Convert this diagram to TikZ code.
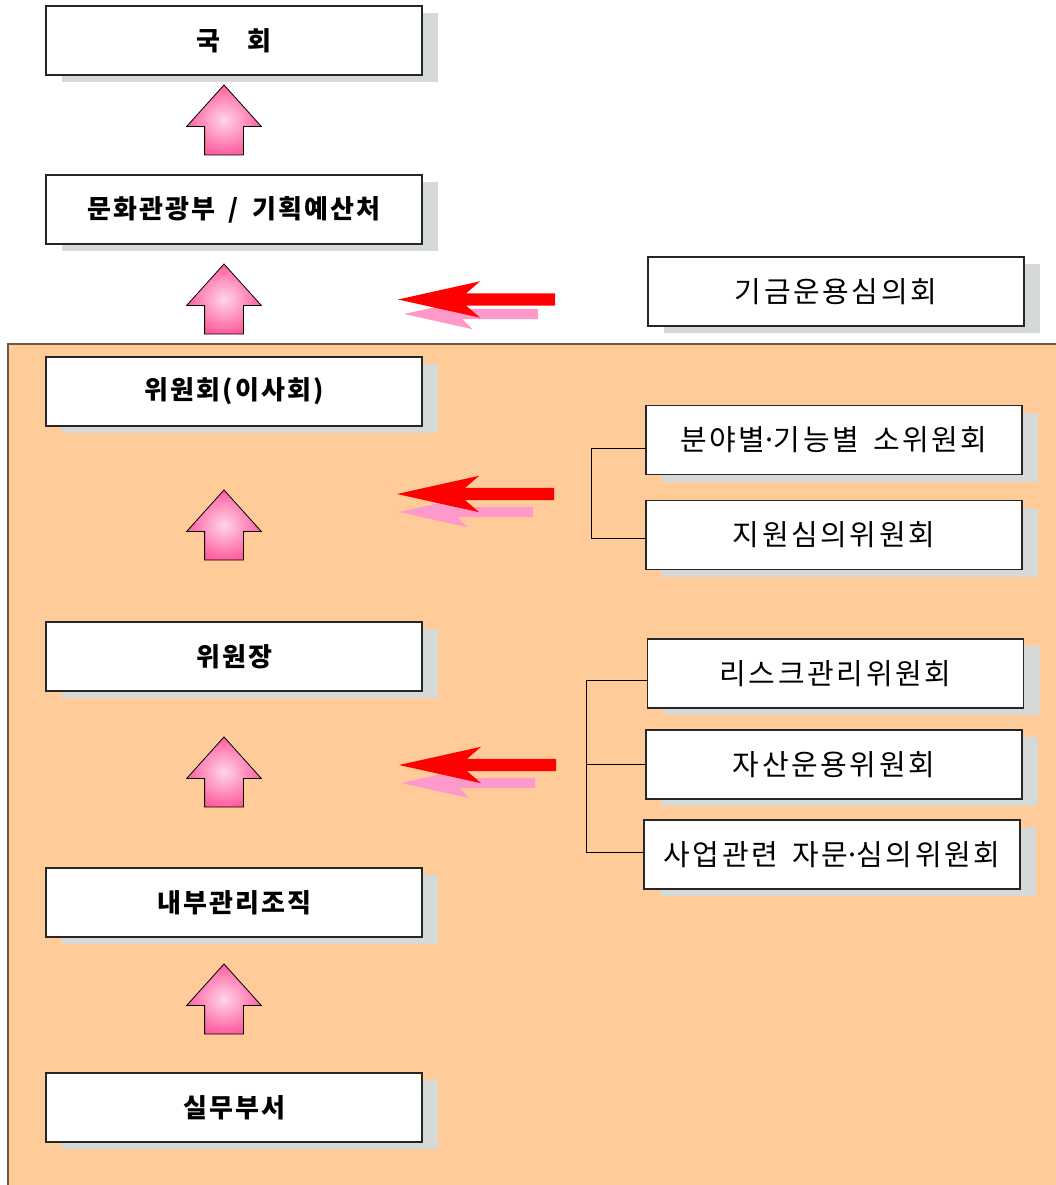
\documentclass[tikz,border=0pt]{standalone}
\usepackage{fontspec}
\newfontfamily\kr[LetterSpace=8]{Noto Sans CJK KR}
\newfontfamily\krwide[LetterSpace=9]{Noto Sans CJK KR}
\usetikzlibrary{calc,positioning,shapes,shadows}
\definecolor{peach}{HTML}{FFCC99}
\definecolor{bgline}{HTML}{6B5B4B}
\definecolor{shadowgray}{HTML}{D5DAD7}
\definecolor{pkin}{HTML}{FFD6EA}
\definecolor{pkout}{HTML}{FF5C9E}
\definecolor{pinkarr}{HTML}{FF99CC}
\newcommand{\mdot}{\kern-4pt·\kern-4pt}
\tikzset{
    box/.style={
        rectangle,
        draw=black!85,
        line width=1.2pt,
        fill=white,
        minimum width=376pt,
        minimum height=69pt,
        inner sep=0pt,
        outer sep=0pt,
        drop shadow={shadow xshift=16pt,shadow yshift=-7pt,fill=shadowgray,opacity=1},
    },
    leftbox/.style={
        box,
        font=\kr\bfseries\fontsize{26pt}{30pt}\selectfont,
    },
    rightbox/.style={
        box,
        font=\krwide\fontsize{29pt}{33pt}\selectfont,
    },
    uparrow/.style={
        single arrow,
        rotate=90,
        anchor=tip,
        draw=black,
        line width=0.8pt,
        inner color=pkin,
        outer color=pkout,
        minimum height=70pt,
        inner xsep=0pt,
        inner ysep=19pt,
        single arrow head extend=18pt,
        single arrow tip angle=84,
        outer sep=0pt,
    },
    redarrow/.style={
        single arrow,
        rotate=180,
        anchor=tip,
        fill=red,
        minimum height=157pt,
        inner xsep=0pt,
        inner ysep=6pt,
        single arrow head extend=12pt,
        single arrow head indent=14pt,
        single arrow tip angle=25,
        outer sep=0pt,
    },
    pinkarrow/.style={
        redarrow,
        fill=pinkarr,
        minimum height=134pt,
        inner ysep=5pt,
        single arrow head extend=10pt,
        single arrow head indent=10pt,
    },
    bracket/.style={
        draw=black,
        line width=1pt,
    },
    bgarea/.style={
        draw=bgline,
        fill=peach,
        line width=1.6pt,
    },
}
\begin{document}
\begin{tikzpicture}[x=1pt,y=-1pt]
    \useasboundingbox (0,0) rectangle (1055,1185);
    \path[bgarea] (8,344) rectangle (1068,1195);

    \node[leftbox] (gukhoe) at (234,40.5) {국\hspace{28pt}회};
    \node[leftbox,below=100pt of gukhoe] (munhwa) {문화관광부\hspace{14pt}/\hspace{14pt}기획예산처};
    \node[leftbox,below=113pt of munhwa] (wiwonhoe) {위원회(이사회)};
    \node[leftbox,below=196pt of wiwonhoe] (wiwonjang) {위원장};
    \node[leftbox,below=177pt of wiwonjang] (naebu) {내부관리조직};
    \node[leftbox,below=136pt of naebu] (silmu) {실무부서};

    \foreach \n/\y in {1/85,2/264,3/490,4/737,5/964}
        \node[uparrow] (up\n) at (224,\y) {};

    \node[rightbox] (gigeum) at (836,291.5) {기금운용심의회};
    \node[rightbox] (bunya) at (834,440) {분야별\mdot 기능별\hspace{14pt}소위원회};
    \node[rightbox,below=26pt of bunya] (jiwon) {지원심의위원회};
    \node[rightbox] (risk) at (835.5,673.5) {리스크관리위원회};
    \node[rightbox,below=22pt of risk,xshift=-1.5pt] (jasan) {자산운용위원회};
    \node[rightbox,below=21pt of jasan,xshift=-2pt] (saeop) {사업관련\hspace{14pt}자문\mdot 심의위원회};

    \draw[bracket] ([yshift=-8pt]bunya.west) -- ++(-55,0) |- ([yshift=-3pt]jiwon.west);
    \draw[bracket] ([yshift=-7pt]risk.west) -- ++(-61,0) |- ([yshift=2pt]saeop.west);
    \draw[bracket] (jasan.west) -- ++(-59,0);

    \node[pinkarrow] (gigeumS) at (404,314) {};
    \node[redarrow] (gigeumA) at (398,299.5) {};
    \node[pinkarrow] (bunyaS) at (399,512) {};
    \node[redarrow] (bunyaA) at (397,494) {};
    \node[pinkarrow] (riskS) at (401,783) {};
    \node[redarrow] (riskA) at (399,765) {};
\end{tikzpicture}
\end{document}
